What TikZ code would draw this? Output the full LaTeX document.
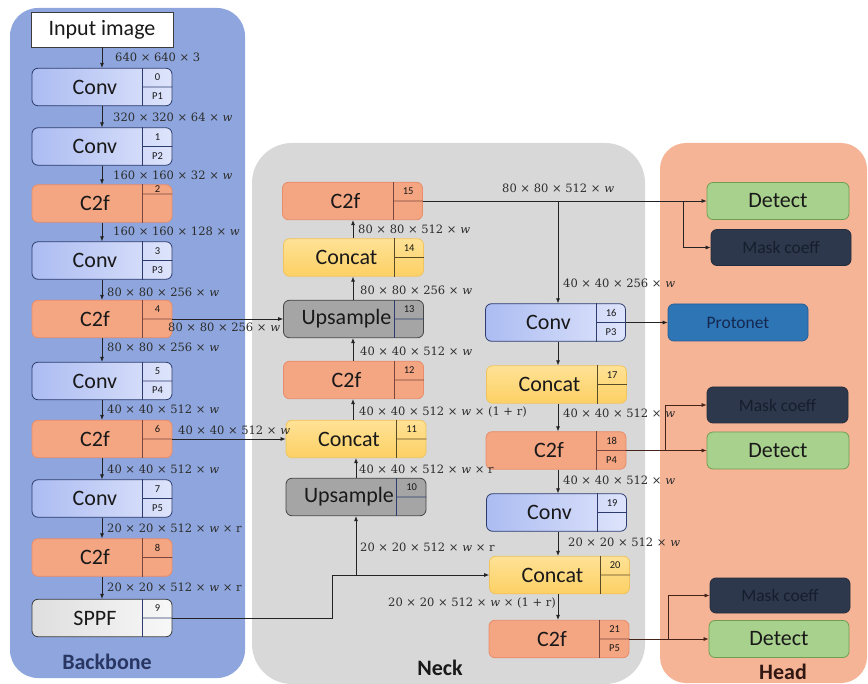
\documentclass[tikz,border=0pt]{standalone}
\usepackage{fontspec}
\setmainfont{Carlito}
\newfontfamily\dimfont{DejaVu Serif}
\usetikzlibrary{calc,arrows.meta}
\definecolor{bbpanel}{RGB}{142,166,221}
\definecolor{neckpanel}{RGB}{216,216,216}
\definecolor{headpanel}{RGB}{246,180,150}
\definecolor{convline}{RGB}{45,60,110}
\definecolor{convL}{RGB}{172,188,242}
\definecolor{convR}{RGB}{222,228,251}
\definecolor{c2ffill}{RGB}{244,165,130}
\definecolor{c2fline}{RGB}{232,140,105}
\definecolor{c2fdiv}{RGB}{120,70,60}
\definecolor{catT}{RGB}{255,226,150}
\definecolor{catB}{RGB}{252,208,100}
\definecolor{catline}{RGB}{240,195,95}
\definecolor{catdiv}{RGB}{90,75,40}
\definecolor{upsfill}{RGB}{165,165,165}
\definecolor{upsline}{RGB}{70,70,70}
\definecolor{sppfL}{RGB}{222,222,222}
\definecolor{sppfR}{RGB}{248,248,248}
\definecolor{sppfline}{RGB}{60,60,60}
\definecolor{detfill}{RGB}{169,209,142}
\definecolor{detline}{RGB}{110,160,80}
\definecolor{mkfill}{RGB}{45,56,76}
\definecolor{mktext}{RGB}{22,30,45}
\definecolor{protofill}{RGB}{46,117,182}
\definecolor{prototext}{RGB}{20,40,80}
\definecolor{linecol}{RGB}{35,35,35}
\definecolor{headline}{RGB}{70,35,25}
\definecolor{dimcol}{RGB}{45,45,45}
\definecolor{txtcol}{RGB}{25,25,25}

\newcommand\blk[7][0.5]{%
  \node[#4box] (#2) at #3 {};
  \coordinate (#2-dt) at ($(#2.north west)!0.79!(#2.north east)$);
  \coordinate (#2-db) at ($(#2.south west)!0.79!(#2.south east)$);
  \coordinate (#2-nt) at ($(#2.north west)!0.895!(#2.north east)$);
  \coordinate (#2-nb) at ($(#2.south west)!0.895!(#2.south east)$);
  \draw[#4div] (#2-dt) -- (#2-db);
  \draw[#4div] ($(#2-dt)!#1!(#2-db)$) -- ($(#2.north east)!#1!(#2.south east)$);
  \node[maintxt] (#2-t) at ($(#2.west)!0.45!(#2.east)$) {#5};
  \node[numtxt] (#2-n) at ($(#2-nt)!0.5*#1!(#2-nb)$) {#6};
  \node[numtxt] (#2-p) at ($(#2-nt)!0.5+0.5*#1!(#2-nb)$) {#7};
}
\newcommand\dl[3]{\node[dimlab] (#1) at #2 {#3};}
\newcommand\w{\textit{w}}

\begin{document}
\begin{tikzpicture}[x=1pt,y=-1pt,
  base/.style={rectangle, rounded corners=6pt, minimum width=140pt, minimum height=37.5pt, inner sep=0pt, line width=0.8pt},
  convbox/.style={base, draw=convline, left color=convL, right color=convR},
  convdiv/.style={draw=convline, line width=0.7pt},
  c2fbox/.style={base, draw=c2fline, fill=c2ffill},
  c2fdiv/.style={draw=c2fdiv, line width=0.7pt},
  catbox/.style={base, draw=catline, top color=catT, bottom color=catB},
  catdiv/.style={draw=catdiv, line width=0.7pt},
  upsbox/.style={base, draw=upsline, fill=upsfill},
  upsdiv/.style={draw=convline, line width=0.7pt},
  sppfbox/.style={base, draw=sppfline, left color=sppfL, right color=sppfR},
  sppfdiv/.style={draw=convline, line width=0.7pt},
  maintxt/.style={font=\fontsize{22}{24}\selectfont, text=txtcol, inner sep=0pt},
  numtxt/.style={font=\fontsize{10.5}{11}\selectfont, text=txtcol, inner sep=0pt},
  headbox/.style={rectangle, rounded corners=6pt, minimum width=140pt, minimum height=37pt, inner sep=0pt, line width=0.8pt, font=\fontsize{22}{24}\selectfont},
  detbox/.style={headbox, draw=detline, fill=detfill, text=txtcol},
  mkbox/.style={headbox, minimum height=36pt, draw=mkfill!80!black, fill=mkfill, text=mktext, font=\fontsize{17.5}{19}\selectfont},
  protobox/.style={headbox, draw=protofill!80!black, fill=protofill, text=prototext, font=\fontsize{17.5}{19}\selectfont},
  dimlab/.style={anchor=west, inner sep=0pt, text=dimcol, font=\dimfont\fontsize{11.5}{13}\selectfont},
  arr/.style={-{Latex[length=5pt,width=4pt]}, line width=0.7pt, draw=linecol},
  harr/.style={-{Latex[length=5pt,width=4pt]}, line width=0.7pt, draw=headline},
  panellab/.style={font=\bfseries\fontsize{22}{24}\selectfont, inner sep=0pt}
]
\useasboundingbox (0,0) rectangle (868,684);
% panels
\path[fill=bbpanel, rounded corners=28pt] (10,8) rectangle (245,678);
\path[fill=neckpanel, rounded corners=40pt] (252,143) rectangle (645,684);
\path[fill=headpanel, rounded corners=26pt] (660,143) rectangle (867,683);
\node[panellab, text=convline!90!black] (lbb) at (107,662) {Backbone};
\node[panellab, text=txtcol] (lneck) at (440,668) {Neck};
\node[panellab, text=headline!70!black] (lhead) at (783,672) {Head};

% backbone
\node[rectangle, draw=sppfline, fill=white, line width=0.8pt, minimum width=142pt, minimum height=35pt, inner sep=0pt, font=\fontsize{22}{24}\selectfont, text=txtcol] (inp) at (102,29.5) {Input image};
\blk{n0}{(102,87)}{conv}{Conv}{0}{P1}
\blk{n1}{(102,146.5)}{conv}{Conv}{1}{P2}
\blk[0.25]{n2}{(102,203.5)}{c2f}{C2f}{2}{}
\blk{n3}{(102,260.5)}{conv}{Conv}{3}{P3}
\blk{n4}{(102,319)}{c2f}{C2f}{4}{}
\blk{n5}{(102,381)}{conv}{Conv}{5}{P4}
\blk{n6}{(102,439)}{c2f}{C2f}{6}{}
\blk{n7}{(102,498.5)}{conv}{Conv}{7}{P5}
\blk{n8}{(102,557.5)}{c2f}{C2f}{8}{}
\blk{n9}{(102,618)}{sppf}{SPPF}{9}{}

% neck
\blk{n15}{(352.5,201)}{c2f}{C2f}{15}{}
\blk{n14}{(353.5,257.5)}{cat}{Concat}{14}{}
\blk{n13}{(353.5,319)}{ups}{Upsample}{13}{}
\blk{n12}{(353.5,380)}{c2f}{C2f}{12}{}
\blk{n11}{(356,439)}{cat}{Concat}{11}{}
\blk{n10}{(356,497)}{ups}{Upsample}{10}{}

\blk{n16}{(555.5,322.5)}{conv}{Conv}{16}{P3}
\blk{n17}{(556.5,384.5)}{cat}{Concat}{17}{}
\blk{n18}{(556,450.5)}{c2f}{C2f}{18}{P4}
\blk{n19}{(556.5,512.5)}{conv}{Conv}{19}{}
\blk{n20}{(559.5,575)}{cat}{Concat}{20}{}
\blk{n21}{(559,639)}{c2f}{C2f}{21}{P5}

% head
\node[detbox, minimum width=142pt] (det1) at (778,201) {Detect};
\node[mkbox] (mk1) at (781,247.5) {Mask coeff};
\node[protobox] (proto) at (738,322.5) {Protonet};
\node[mkbox, minimum width=141pt] (mk2) at (777.5,405) {Mask coeff};
\node[detbox, minimum width=142pt] (det2) at (778,450.5) {Detect};
\node[mkbox, minimum height=35pt] (mk3) at (780,595.5) {Mask coeff};
\node[detbox] (det3) at (779,639) {Detect};

% backbone arrows
\draw[arr] (inp.south) -- (n0.north);
\draw[arr] (n0.south) -- (n1.north);
\draw[arr] (n1.south) -- (n2.north);
\draw[arr] (n2.south) -- (n3.north);
\draw[arr] (n3.south) -- (n4.north);
\draw[arr] (n4.south) -- (n5.north);
\draw[arr] (n5.south) -- (n6.north);
\draw[arr] (n6.south) -- (n7.north);
\draw[arr] (n7.south) -- (n8.north);
\draw[arr] (n8.south) -- (n9.north);

% cross links
\draw[arr] (n4.east) -- (n13.west);
\draw[arr] (n6.east) -- (n11.west);
\coordinate (kx) at (332,0);
\draw[arr] (n9.east) -| (kx |- n20.west) -- (n20.west);
\draw[arr] (n10.south |- n20.west) -- (n10.south);

% neck up arrows
\coordinate (nx) at (353,0);
\draw[arr] (n10.north) -- (n11.south);
\draw[arr] (n11.north -| nx) -- (n12.south -| nx);
\draw[arr] (n12.north -| nx) -- (n13.south -| nx);
\draw[arr] (n13.north -| nx) -- (n14.south -| nx);
\draw[arr] (n14.north -| nx) -- (n15.south -| nx);

% right column
\coordinate (rx) at (558,0);
\coordinate (s15) at (n15.east -| rx);
\draw[arr] (n15.east) -- (n15.east -| det1.west);
\draw[arr] (s15) -- (s15 |- n16.north);
\draw[arr] (n16.south -| rx) -- (n17.north -| rx);
\draw[arr] (n17.south -| rx) -- (n18.north -| rx);
\draw[arr] (n18.south -| rx) -- (n19.north -| rx);
\draw[arr] (n19.south -| rx) -- (n20.north -| rx);
\draw[arr] (n20.south -| rx) -- (n21.north -| rx);

% to head
\coordinate (h1) at (683,0);
\draw[arr] (n15.east -| h1) |- (mk1.west);
\draw[arr] (n16.east) -- (proto.west);
\coordinate (h2) at (665,0);
\draw[harr] (n18.east) -- (n18.east -| det2.west);
\draw[harr] (n18.east -| h2) |- (mk2.west);
\coordinate (h3) at (668,0);
\draw[harr] (n21.east) -- (n21.east -| det3.west);
\draw[harr] (n21.east -| h3) |- (mk3.west);

% dimension labels
\dl{la0}{(115,57)}{640 × 640 × 3}
\dl{la1}{(113,117)}{320 × 320 × 64 × \w}
\dl{la2}{(113,175)}{160 × 160 × 32 × \w}
\dl{la3}{(113,231)}{160 × 160 × 128 × \w}
\dl{la4}{(107,292)}{80 × 80 × 256 × \w}
\dl{la5}{(107,347)}{80 × 80 × 256 × \w}
\dl{la6}{(107,409)}{40 × 40 × 512 × \w}
\dl{la7}{(107,469)}{40 × 40 × 512 × \w}
\dl{la8}{(107,528)}{20 × 20 × 512 × \w{} × r}
\dl{la9}{(107,587)}{20 × 20 × 512 × \w{} × r}
\dl{lx1}{(168,327)}{80 × 80 × 256 × \w}
\dl{lx2}{(178,430)}{40 × 40 × 512 × \w}
\dl{lb1}{(358,229)}{80 × 80 × 512 × \w}
\dl{lb2}{(360,290)}{80 × 80 × 256 × \w}
\dl{lb3}{(360,351)}{40 × 40 × 512 × \w}
\dl{lb4}{(359,412)}{40 × 40 × 512 × \w{} × (1 + r)}
\dl{lb5}{(359,469)}{40 × 40 × 512 × \w{} × r}
\dl{lb6}{(360,547)}{20 × 20 × 512 × \w{} × r}
\dl{lc1}{(502,188)}{80 × 80 × 512 × \w}
\dl{lc2}{(563,283)}{40 × 40 × 256 × \w}
\dl{lc3}{(563,413)}{40 × 40 × 512 × \w}
\dl{lc4}{(563,480)}{40 × 40 × 512 × \w}
\dl{lc5}{(568,542)}{20 × 20 × 512 × \w}
\node[dimlab, anchor=east] (lc6) at (556,603) {20 × 20 × 512 × \w{} × (1 + r)};
\end{tikzpicture}
\end{document}
